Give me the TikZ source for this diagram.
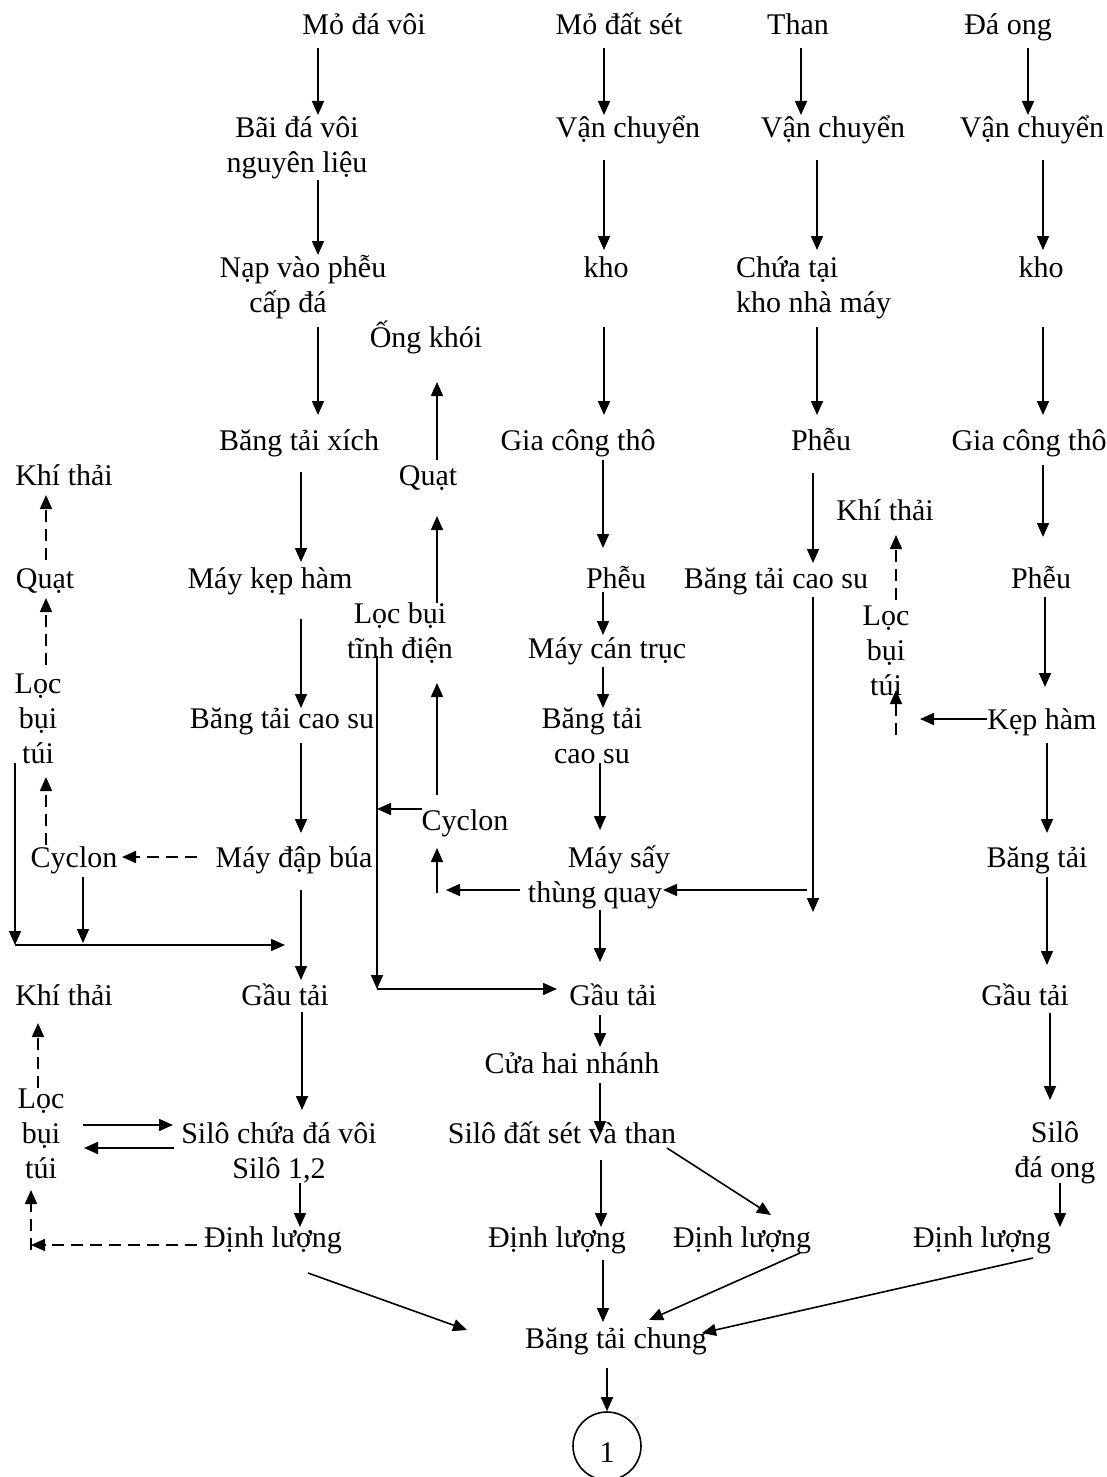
\documentclass[tikz,border=0pt]{standalone}
\usepackage{fontspec}
\setmainfont{Liberation Serif}
\usetikzlibrary{arrows.meta}
\newcommand{\twoc}[1]{\begin{tabular}[t]{@{}c@{}}#1\end{tabular}}
\newcommand{\twol}[1]{\begin{tabular}[t]{@{}l@{}}#1\end{tabular}}
\begin{document}
\begin{tikzpicture}[x=1pt,y=-1pt,
  lbl/.style={inner sep=0pt, anchor=base, font=\fontsize{30}{35}\selectfont},
  arr/.style={line width=1.6pt, -{Triangle[length=14pt,width=12pt]}},
  darr/.style={arr, dash pattern=on 12pt off 7pt},
  ln/.style={line width=1.6pt}]
\useasboundingbox (0,0) rectangle (1107,1477);
% ---- column A
\node[lbl] (A1) at (364,35) {Mỏ đá vôi};
\node[lbl] (A2) at (297,138) {\twoc{Bãi đá vôi\\nguyên liệu}};
\node[lbl] (A3) at (303,277) {\twoc{Nạp vào phễu\\cấp đá\rule{30pt}{0pt}}};
\node[lbl] (A4) at (299,450) {Băng tải xích};
\node[lbl] (A5) at (270,588) {Máy kẹp hàm};
\node[lbl] (A6) at (282,728) {Băng tải cao su};
\node[lbl] (A7) at (294,867) {Máy đập búa};
\node[lbl] (A8) at (285,1005) {Gầu tải};
\node[lbl] (A9) at (279,1143) {\twoc{Silô chứa đá vôi\\Silô 1,2}};
\node[lbl] (A10) at (273,1247) {Định lượng};
% ---- left
\node[lbl] (L1) at (64,485) {Khí thải};
\node[lbl] (L2) at (45,588) {Quạt};
\node[lbl] (L3) at (38,693) {\twoc{Lọc\\bụi\\túi}};
\node[lbl] (L4) at (74,867) {Cyclon};
\node[lbl] (L5) at (64,1005) {Khí thải};
\node[lbl] (L6) at (41,1108) {\twoc{Lọc\\bụi\\túi}};
% ---- middle
\node[lbl] (M1) at (426,347) {Ống khói};
\node[lbl] (M2) at (428,485) {Quạt};
\node[lbl] (M3) at (400,623) {\twoc{Lọc bụi\\tĩnh điện}};
\node[lbl] (M4) at (465,830) {Cyclon};
% ---- column B
\node[lbl] (B1) at (619,35) {Mỏ đất sét};
\node[lbl] (B2) at (628,138) {Vận chuyển};
\node[lbl] (B3) at (606,277) {kho};
\node[lbl] (B4) at (578,450) {Gia công thô};
\node[lbl] (B5) at (616,588) {Phễu};
\node[lbl] (B6) at (607,658) {Máy cán trục};
\node[lbl] (B7) at (592,728) {\twoc{Băng tải\\cao su}};
\node[lbl] (B8) at (595,867) {\twoc{\hspace{48pt}Máy sấy\\thùng quay}};
\node[lbl] (B9) at (613,1005) {Gầu tải};
\node[lbl] (B10) at (572,1073) {Cửa hai nhánh};
\node[lbl] (B11) at (562,1143) {Silô đất sét và than};
\node[lbl] (B12) at (557,1247) {Định lượng};
\node[lbl] (B13) at (742,1247) {Định lượng};
\node[lbl] (B14) at (616,1348) {Băng tải chung};
\node[draw, circle, line width=1.6pt, minimum size=68pt, inner sep=0pt,
      font=\fontsize{30}{35}\selectfont] (B15) at (607,1446) {\raisebox{-6pt}[20pt][0pt]{1}};
% ---- column C
\node[lbl] (C1) at (798,35) {Than};
\node[lbl] (C2) at (833,138) {Vận chuyển};
\node[lbl, anchor=base west] (C3) at (736,277) {\twol{Chứa tại\\kho nhà máy}};
\node[lbl] (C4) at (821,450) {Phễu};
\node[lbl] (C5) at (776,588) {Băng tải cao su};
\node[lbl] (C6) at (885,520) {Khí thải};
\node[lbl] (C7) at (886,625) {\twoc{Lọc\\bụi\\túi}};
% ---- column D
\node[lbl] (D1) at (1008,35) {Đá ong};
\node[lbl] (D2) at (1032,138) {Vận chuyển};
\node[lbl] (D3) at (1041,277) {kho};
\node[lbl] (D4) at (1029,450) {Gia công thô};
\node[lbl] (D5) at (1041,588) {Phễu};
\node[lbl] (D6) at (1042,729) {Kẹp hàm};
\node[lbl] (D7) at (1037,867) {Băng tải};
\node[lbl] (D8) at (1025,1005) {Gầu tải};
\node[lbl] (D9) at (1055,1142) {\twoc{Silô\\đá ong}};
\node[lbl] (D10) at (982,1247) {Định lượng};
% ---- junction coordinates
\coordinate (jL) at (15,945);
\coordinate (jM) at (377,989);
\coordinate (jB) at (31,1245);
% ==== connectors column A
\draw[arr] ([shift={(-46,13)}]A1.base) -- ([shift={(21,-23)}]A2.base);
\draw[arr] ([shift={(21,42)}]A2.base) -- ([shift={(15,-22)}]A3.base);
\draw[arr] ([shift={(15,50)}]A3.base) -- ([shift={(19,-35)}]A4.base);
\draw[arr] ([shift={(2,22)}]A4.base) -- ([shift={(31,-26)}]A5.base);
\draw[arr] ([shift={(31,31)}]A5.base) -- ([shift={(19,-20)}]A6.base);
\draw[arr] ([shift={(19,15)}]A6.base) -- ([shift={(7,-34)}]A7.base);
\draw[arr] ([shift={(7,23)}]A7.base) -- ([shift={(16,-25)}]A8.base);
\draw[arr] ([shift={(17,7)}]A8.base) -- ([shift={(23,-33)}]A9.base);
\draw[arr] ([shift={(21,40)}]A9.base) -- ([shift={(27,-20)}]A10.base);
\draw[arr] ([shift={(35,26)}]A10.base) -- ([shift={(-149,-18)}]B14.base);
% ==== left
\draw[darr] ([shift={(1,-28)}]L2.base) -- ([shift={(-18,10)}]L1.base);
\draw[darr] ([shift={(8,-28)}]L3.base) -- ([shift={(1,10)}]L2.base);
\draw[darr] ([shift={(-28,-22)}]L4.base) -- ([shift={(8,84)}]L3.base);
\draw[darr] ([shift={(-97,-10)}]A7.base) -- ([shift={(48,-10)}]L4.base);
\draw[arr] ([shift={(-23,70)}]L3.base) -- (jL);
\draw[arr] (jL) -- ([shift={(0,-60)}]A8.base);
\draw[arr] ([shift={(9,10)}]L4.base) -- ([shift={(9,76)}]L4.base);
\draw[darr] ([shift={(-3,-20)}]L6.base) -- ([shift={(-26,18)}]L5.base);
\draw[arr] ([shift={(42,17)}]L6.base) -- ([shift={(-106,-18)}]A9.base);
\draw[arr] ([shift={(-105,5)}]A9.base) -- ([shift={(43,40)}]L6.base);
\draw[darr] ([shift={(-76,-2)}]A10.base) -- (jB);
\draw[darr] ([shift={(0,5)}]jB) -- ([shift={(-10,82)}]L6.base);
% ==== middle
\draw[arr] ([shift={(9,-25)}]M2.base) -- ([shift={(11,35)}]M1.base);
\draw[arr] ([shift={(37,-20)}]M3.base) -- ([shift={(9,31)}]M2.base);
\draw[arr] ([shift={(-28,-35)}]M4.base) -- ([shift={(37,60)}]M3.base);
\draw[arr] ([shift={(-43,-21)}]M4.base) -- ([shift={(-23,186)}]M3.base);
\draw[arr] ([shift={(-23,33)}]M3.base) -- (jM);
\draw[arr] (jM) -- ([shift={(-56,-16)}]B9.base);
\draw[arr] ([shift={(-75,23)}]B8.base) -- ([shift={(-19,60)}]M4.base);
\draw[arr] ([shift={(-28,63)}]M4.base) -- ([shift={(-28,18)}]M4.base);
% ==== column B
\draw[arr] ([shift={(-15,13)}]B1.base) -- ([shift={(-24,-23)}]B2.base);
\draw[arr] ([shift={(-24,22)}]B2.base) -- ([shift={(-2,-27)}]B3.base);
\draw[arr] ([shift={(-2,50)}]B3.base) -- ([shift={(26,-35)}]B4.base);
\draw[arr] ([shift={(25,10)}]B4.base) -- ([shift={(-13,-40)}]B5.base);
\draw[arr] ([shift={(-13,4)}]B5.base) -- ([shift={(-4,-23)}]B6.base);
\draw[arr] ([shift={(-4,9)}]B6.base) -- ([shift={(11,-20)}]B7.base);
\draw[arr] ([shift={(8,35)}]B7.base) -- ([shift={(5,-37)}]B8.base);
\draw[arr] ([shift={(5,43)}]B8.base) -- ([shift={(-13,-43)}]B9.base);
\draw[arr] ([shift={(-13,10)}]B9.base) -- ([shift={(28,-26)}]B10.base);
\draw[arr] ([shift={(28,10)}]B10.base) -- ([shift={(38,-8)}]B11.base);
\draw[arr] ([shift={(39,17)}]B11.base) -- ([shift={(44,-20)}]B12.base);
\draw[arr] ([shift={(105,5)}]B11.base) -- ([shift={(29,-32)}]B13.base);
\draw[arr] ([shift={(46,13)}]B12.base) -- ([shift={(-13,-26)}]B14.base);
\draw[arr] ([shift={(58,6)}]B13.base) -- ([shift={(33,-28)}]B14.base);
\draw[arr] ([shift={(-9,20)}]B14.base) -- (B15.north);
% ==== column C
\draw[arr] ([shift={(3,13)}]C1.base) -- ([shift={(-32,-23)}]C2.base);
\draw[arr] ([shift={(-16,22)}]C2.base) -- ([shift={(81,-27)}]C3.base west);
\draw[arr] ([shift={(81,50)}]C3.base west) -- ([shift={(-4,-35)}]C4.base);
\draw[arr] ([shift={(-8,23)}]C4.base) -- ([shift={(37,-25)}]C5.base);
\draw[arr] ([shift={(37,9)}]C5.base) -- ([shift={(37,324)}]C5.base);
\draw[arr] ([shift={(31,302)}]C5.base) -- ([shift={(68,23)}]B8.base);
\draw[darr] ([shift={(10,-25)}]C7.base) -- ([shift={(11,15)}]C6.base);
\draw[arr] ([shift={(-55,-10)}]D6.base) -- ([shift={(34,94)}]C7.base);
\draw[darr] ([shift={(10,110)}]C7.base) -- ([shift={(10,65)}]C7.base);
% ==== column D
\draw[arr] ([shift={(20,13)}]D1.base) -- ([shift={(-4,-23)}]D2.base);
\draw[arr] ([shift={(11,22)}]D2.base) -- ([shift={(2,-27)}]D3.base);
\draw[arr] ([shift={(2,50)}]D3.base) -- ([shift={(14,-35)}]D4.base);
\draw[arr] ([shift={(14,15)}]D4.base) -- ([shift={(2,-51)}]D5.base);
\draw[arr] ([shift={(4,9)}]D5.base) -- ([shift={(3,-42)}]D6.base);
\draw[arr] ([shift={(5,14)}]D6.base) -- ([shift={(10,-34)}]D7.base);
\draw[arr] ([shift={(10,10)}]D7.base) -- ([shift={(22,-40)}]D8.base);
\draw[arr] ([shift={(25,8)}]D8.base) -- ([shift={(-5,-42)}]D9.base);
\draw[arr] ([shift={(5,41)}]D9.base) -- ([shift={(78,-20)}]D10.base);
\draw[arr] ([shift={(51,11)}]D10.base) -- ([shift={(86,-15)}]B14.base);
\end{tikzpicture}
\end{document}
